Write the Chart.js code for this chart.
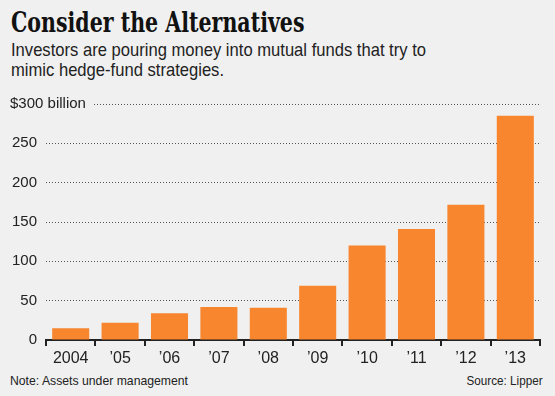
<!DOCTYPE html>
<html>
<head>
<meta charset="utf-8">
<script src="https://cdn.jsdelivr.net/npm/chart.js@4"></script>
<style>
  html, body { margin: 0; padding: 0; }
  body { width: 555px; height: 396px; background: #f0f0f0; position: relative; overflow: hidden; }
  .txt { position: absolute; white-space: nowrap; display: inline-block; transform-origin: 0 0; color: #222; }
  #title { left: 10.5px; top: 9px; font: bold 27px "DejaVu Serif", serif; line-height: 27px; color: #111; }
  .sub { left: 10.5px; font: 18.5px "Liberation Sans Narrow", "Liberation Sans", sans-serif; line-height: 20px; }
  #sub1 { top: 40px; }
  #sub2 { top: 60px; }
  .foot { font: 13px "Liberation Sans Narrow", "Liberation Sans", sans-serif; line-height: 13px; top: 374px; }
  #note { left: 10px; }
  #source { transform-origin: 100% 0; right: 12px; }
  #chart { position: absolute; left: 0; top: 0; }
</style>
</head>
<body>
<div id="title" class="txt" data-w="293.5">Consider the Alternatives</div>
<div id="sub1" class="txt sub" data-w="415">Investors are pouring money into mutual funds that try to</div>
<div id="sub2" class="txt sub" data-same="sub1">mimic hedge-fund strategies.</div>
<div id="note" class="txt foot" data-w="178">Note: Assets under management</div>
<div id="source" class="txt foot" data-w="76">Source: Lipper</div>
<canvas id="chart" width="555" height="396"></canvas>
<script>
// Data
const years = ['2004', '\u201905', '\u201906', '\u201907', '\u201908', '\u201909', '\u201910', '\u201911', '\u201912', '\u201913'];
const assets = [15, 22, 34, 42, 41, 69, 120, 141, 172, 285]; // $ billion
const yTicks = [0, 50, 100, 150, 200, 250, 300];
const topLabel = '$300 billion';

// squeeze header/footer texts to the reference widths
const scales = {};
document.querySelectorAll('[data-w]').forEach(el => {
    const natural = el.getBoundingClientRect().width;
    scales[el.id] = +el.dataset.w / natural;
    el.style.transform = `scaleX(${scales[el.id]})`;
});
document.querySelectorAll('[data-same]').forEach(el => {
    el.style.transform = `scaleX(${scales[el.dataset.same]})`;
});

const BG = '#f0f0f0';
const labelFont = { family: '"Liberation Sans", sans-serif', size: 15 };

// "$300 billion" label sits on the top gridline, which starts after it
const topLabelPlugin = {
    id: 'topLabel',
    afterDraw(chart) {
        const { ctx } = chart;
        const y = chart.scales.y.getPixelForValue(yTicks[yTicks.length - 1]);
        ctx.save();
        ctx.fillStyle = BG;
        ctx.fillRect(0, y - 9, 94, 18);
        ctx.fillStyle = '#222';
        ctx.font = `${labelFont.size}px ${labelFont.family}`;
        ctx.textAlign = 'left';
        ctx.textBaseline = 'middle';
        ctx.fillText(topLabel, 10, y);
        ctx.restore();
    }
};

new Chart(document.getElementById('chart'), {
    type: 'bar',
    data: {
        labels: years,
        datasets: [{
            data: assets,
            backgroundColor: '#f8862f',
            borderWidth: 0,
            barPercentage: 0.75,
            categoryPercentage: 1
        }]
    },
    options: {
        responsive: false,
        animation: false,
        layout: { padding: { top: 104, right: 15, bottom: 20, left: 0 } },
        plugins: { legend: { display: false }, tooltip: { enabled: false } },
        scales: {
            x: {
                afterFit: s => { s.height = 36; },
                grid: {
                    offset: true,
                    drawOnChartArea: false,
                    drawTicks: true,
                    tickLength: 6,
                    color: '#222',
                    lineWidth: 2
                },
                border: { display: true, color: '#222', width: 2 },
                ticks: { color: '#222', padding: 3, font: { family: labelFont.family, size: 16 }, maxRotation: 0 }
            },
            y: {
                min: 0,
                max: 300,
                afterFit: s => { s.width = 46; },
                afterBuildTicks: s => { s.ticks = yTicks.map(v => ({ value: v })); },
                grid: { drawTicks: false, color: '#555', lineWidth: 1 },
                border: { display: false, dash: [1, 2] },
                ticks: {
                    color: '#222',
                    padding: 9,
                    font: labelFont,
                    callback: v => (v === 300 ? '' : v)
                }
            }
        }
    },
    plugins: [topLabelPlugin]
});
</script>
</body>
</html>
